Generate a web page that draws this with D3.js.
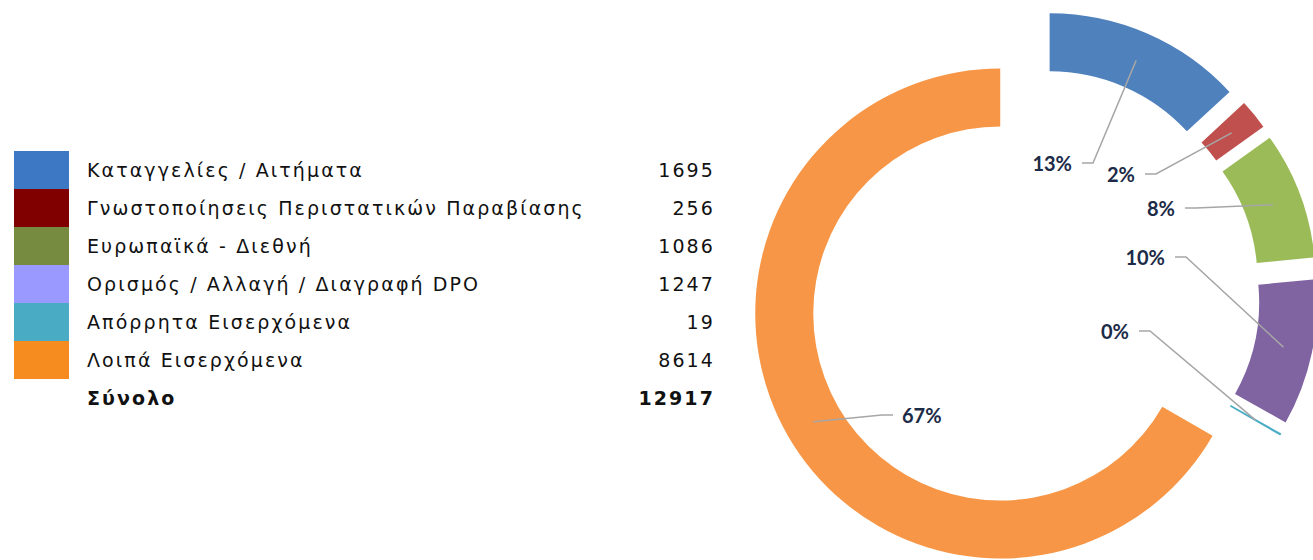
<!DOCTYPE html>
<html>
<head>
<meta charset="utf-8">
<script src="https://cdn.jsdelivr.net/npm/d3@7"></script>
<style>
  body { margin: 0; background: #fff; }
  svg { display: block; }
</style>
</head>
<body>
<div id="chart"></div>
<script>
// data
var categories = ["Καταγγελίες / Αιτήματα", "Γνωστοποίησεις Περιστατικών Παραβίασης", "Ευρωπαϊκά - Διεθνή",
  "Ορισμός / Αλλαγή / Διαγραφή DPO", "Απόρρητα Εισερχόμενα", "Λοιπά Εισερχόμενα"];
var values = [1695, 256, 1086, 1247, 19, 8614];
var totalLabel = "Σύνολο";

// styles
var sliceColors = ["#4F81BD", "#C0504D", "#9BBB59", "#8064A2", "#4BACC6", "#F79646"];
var legendColors = ["#3C78C3", "#800000", "#768B3F", "#9999FF", "#4AABC5", "#F68B20"];
// where each percentage label sits, relative to the doughnut centre
var labelSpots = [[48, -131, "end"], [111, -120, "end"], [151, -86, "end"], [141, -37, "end"], [105, 37, "end"], [-141, 121, "start"]];

var width = 1313, height = 560;
var cx = 1034, cy = 294, innerR = 187, outerR = 245, explode = 39;
var legendFont = "DejaVu Sans, Verdana, sans-serif";

var svg = d3.select("#chart").append("svg")
  .attr("width", width)
  .attr("height", height);

var total = d3.sum(values);

// legend table
var legend = svg.append("g");
var rowH = 38, top0 = 151;
var rows = legend.selectAll("g.row")
  .data(categories)
  .enter().append("g")
  .attr("class", "row")
  .attr("transform", function(d, i) { return "translate(0," + (top0 + i * rowH) + ")"; });

rows.append("rect")
  .attr("x", 14).attr("y", 0)
  .attr("width", 55).attr("height", rowH)
  .attr("fill", function(d, i) { return legendColors[i]; });

rows.append("text")
  .attr("x", 87).attr("y", 26)
  .style("font-family", legendFont)
  .style("font-size", "19px")
  .style("letter-spacing", "2.1px")
  .attr("fill", "#111")
  .text(function(d) { return d; });

rows.append("text")
  .attr("x", 715).attr("y", 26)
  .attr("text-anchor", "end")
  .style("font-family", legendFont)
  .style("font-size", "19px")
  .style("letter-spacing", "2.1px")
  .attr("fill", "#111")
  .text(function(d, i) { return values[i]; });

var totRow = legend.append("g")
  .attr("transform", "translate(0," + (top0 + categories.length * rowH) + ")");
totRow.append("text")
  .attr("x", 87).attr("y", 26)
  .style("font-family", legendFont)
  .style("font-size", "19px").style("font-weight", "bold")
  .style("letter-spacing", "2.1px")
  .attr("fill", "#111")
  .text(totalLabel);
totRow.append("text")
  .attr("x", 715).attr("y", 26)
  .attr("text-anchor", "end")
  .style("font-family", legendFont)
  .style("font-size", "19px").style("font-weight", "bold")
  .style("letter-spacing", "2.1px")
  .attr("fill", "#111")
  .text(total);

// doughnut
var pie = d3.pie().sort(null).value(function(d) { return d; });
var arc = d3.arc().innerRadius(innerR).outerRadius(outerR);
var arcs = pie(values);

function shift(d) {
  var mid = (d.startAngle + d.endAngle) / 2;
  return [Math.sin(mid) * explode, -Math.cos(mid) * explode];
}

var g = svg.append("g").attr("transform", "translate(" + cx + "," + cy + ")");

g.selectAll("path.slice")
  .data(arcs)
  .enter().append("path")
  .attr("class", "slice")
  .attr("transform", function(d) { var s = shift(d); return "translate(" + s[0] + "," + s[1] + ")"; })
  .attr("fill", function(d, i) { return sliceColors[i]; })
  .attr("d", arc);

// leader lines and labels
g.selectAll("polyline")
  .data(arcs)
  .enter().append("polyline")
  .attr("fill", "none")
  .attr("stroke", "#A6A6A6")
  .attr("stroke-width", 1.5)
  .attr("points", function(d, i) {
    var s = shift(d), c = arc.centroid(d);
    var p = [c[0] + s[0], c[1] + s[1]];
    var spot = labelSpots[i];
    var dir = spot[2] == "end" ? 1 : -1;
    var elbow = [spot[0] + dir * 11, spot[1]];
    return [p, elbow, [spot[0], spot[1]]].map(function(q) { return q.join(","); }).join(" ");
  });

g.selectAll("text.pct")
  .data(arcs)
  .enter().append("text")
  .attr("class", "pct")
  .attr("x", function(d, i) { return labelSpots[i][0] + (labelSpots[i][2] == "end" ? -10 : 9); })
  .attr("y", function(d, i) { return labelSpots[i][1] + 8; })
  .attr("text-anchor", function(d, i) { return labelSpots[i][2]; })
  .style("font-family", "Lato, 'Open Sans', sans-serif")
  .style("font-size", "20px")
  .style("font-weight", "bold")
  .attr("fill", "#1C2B47")
  .text(function(d) { return Math.round(d.data / total * 100) + "%"; });
</script>
</body>
</html>
